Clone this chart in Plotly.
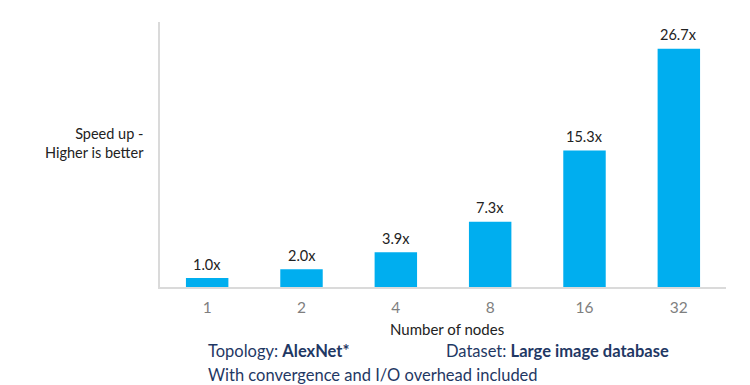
import plotly.graph_objects as go

nodes = ["1", "2", "4", "8", "16", "32"]
speedup = [1.0, 2.0, 3.9, 7.3, 15.3, 26.7]
labels = ["1.0x", "2.0x", "3.9x", "7.3x", "15.3x", "26.7x"]

FONT = "Lato"
L, R, T, B = 160, 726, 22, 287
W, H = R - L, B - T

def px(x):
    return (x - L) / W

def py(y):
    return (B - y) / H

fig = go.Figure(go.Bar(
    x=nodes, y=speedup,
    marker=dict(color="#00AEEF", line=dict(width=0)),
    width=0.45, hoverinfo="skip",
))

# value labels above bars (category axis positions are the category indices)
annotations = [
    dict(x=i, y=v, text=t, xref="x", yref="y", showarrow=False,
         xanchor="center", yanchor="middle", yshift=14,
         font=dict(family=FONT, size=14.5, color="#222222"))
    for i, (v, t) in enumerate(zip(speedup, labels))
]

annotations += [
    dict(text="Speed up -<br>Higher is better", xref="paper", yref="paper",
         x=px(146), y=py(142.5), xanchor="right", yanchor="middle", align="right",
         showarrow=False, font=dict(family=FONT, size=14.5, color="#222222")),
    dict(text="Number of nodes", xref="paper", yref="paper",
         x=px(447), y=py(329), xanchor="center", yanchor="middle",
         showarrow=False, font=dict(family=FONT, size=15, color="#222222")),
    dict(text="Topology: <b>AlexNet*</b>", xref="paper", yref="paper",
         x=px(206), y=py(350.5), xanchor="left", yanchor="middle",
         showarrow=False, font=dict(family=FONT, size=16.5, color="#1f3864")),
    dict(text="Dataset: <b>Large image database</b>", xref="paper", yref="paper",
         x=px(444), y=py(350.5), xanchor="left", yanchor="middle",
         showarrow=False, font=dict(family=FONT, size=16.5, color="#1f3864")),
    dict(text="With convergence and I/O overhead included", xref="paper", yref="paper",
         x=px(206), y=py(374.5), xanchor="left", yanchor="middle",
         showarrow=False, font=dict(family=FONT, size=16.5, color="#1f3864")),
]

fig.update_layout(
    width=750, height=385,
    margin=dict(l=L, r=750 - R, t=T, b=385 - B),
    paper_bgcolor="white", plot_bgcolor="white",
    showlegend=False,
    font=dict(family=FONT),
    xaxis=dict(
        type="category", range=[-0.5, 5.5],
        showgrid=False, zeroline=False,
        showline=True, linecolor="#dadada", linewidth=2,
        ticks="", tickfont=dict(family=FONT, size=15.5, color="#7f7f7f"),
        ticklabelstandoff=5,
    ),
    yaxis=dict(
        range=[0, 29.7], showgrid=False, zeroline=False,
        showline=True, linecolor="#dadada", linewidth=2,
        showticklabels=False, ticks="",
    ),
    annotations=annotations,
)

fig.write_html("out.html", config={"displayModeBar": False},
               post_script="document.body.style.margin='0';")
